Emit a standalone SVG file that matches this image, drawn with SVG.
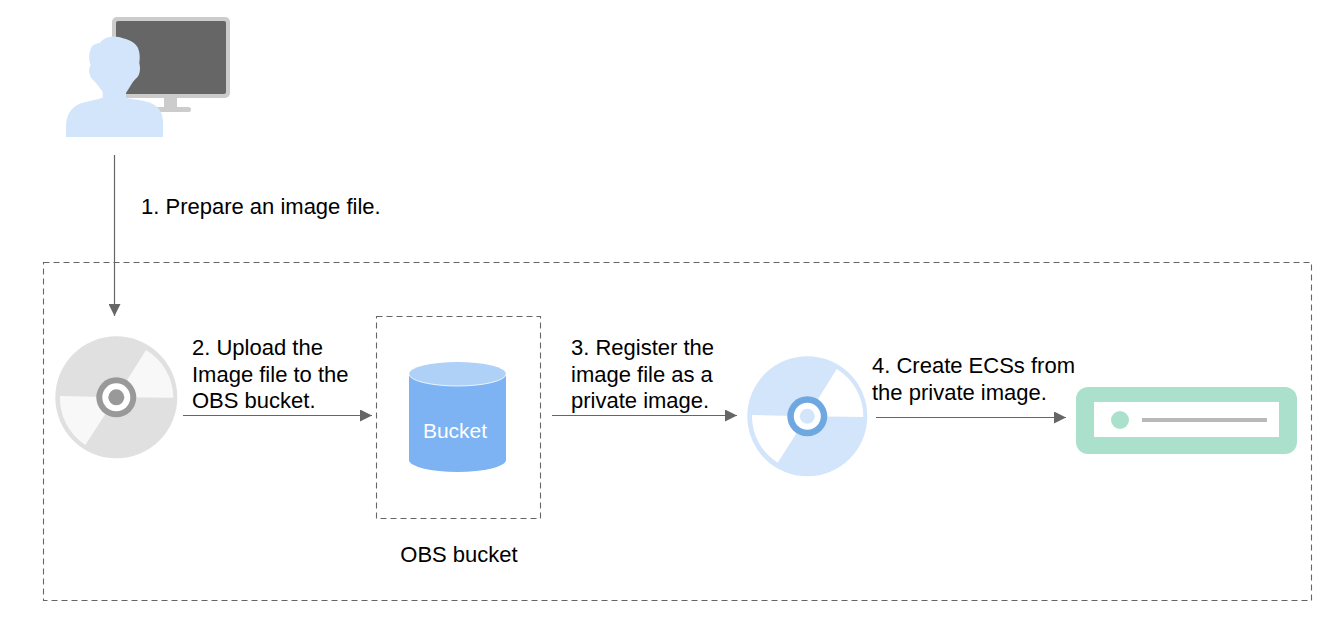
<svg xmlns="http://www.w3.org/2000/svg" width="1334" height="622" viewBox="0 0 1334 622">
<style>
text{font-family:"Liberation Sans",Arial,sans-serif;font-size:22px;fill:#000}
.dash{fill:none;stroke:#666;stroke-width:1.100;stroke-dasharray:6 4}
.conn{fill:none;stroke:#666;stroke-width:1.200;marker-end:url(#arr)}
</style>
<defs>
<marker id="arr" markerUnits="userSpaceOnUse" markerWidth="12" markerHeight="12" refX="12" refY="6" orient="auto"><path d="M0 0L12 6L0 12Z" fill="#666"/></marker>
</defs>
<rect width="1334" height="622" fill="#fff"/>
<rect id="region" class="dash" x="43.5" y="262.5" width="1268" height="338"/>
<g id="user">
<rect x="112" y="17" width="118" height="81" rx="5" fill="#ccc"/>
<rect x="116" y="21" width="110" height="73" rx="2" fill="#666"/>
<rect x="164" y="98" width="13" height="9" fill="#ccc"/>
<rect x="150" y="107" width="41" height="5" rx="2.5" fill="#ccc"/>
<path d="M66 137V127C66 114 72 106 82 103C88 101 96 100 102.700 97.700V91.700L95 81.700C92 79 90 77 90 75C88.500 72 88.700 68 90.700 65C88.500 60 88.700 52 91.700 46.700C94 44 97 43.500 100 42.700C103 39 106 37.500 110 37C115 36 119 37 123 38.300C131 40 136 44 138 48C140 53 140 58 139.300 63C140 66 140.300 69 139.700 71.700C139 75 138 77 136 78.500L133 81.700L126 93V98C133 99.500 140 100 146.700 101.700C156 104 163 110 163 122V137Z" fill="#d2e5fb"/>
</g>
<g id="disc-gray">
<circle cx="116.3" cy="397.3" r="61" fill="#e0e0e0"/>
<path d="M146 350A56 56 0 0 1 173.3 397.7L116.3 397.3Z" fill="#f8f8f8"/>
<path d="M60 396A56 56 0 0 0 85.3 445L116.3 397.3Z" fill="#f8f8f8"/>
<circle cx="116.3" cy="397.3" r="20" fill="#999"/>
<circle cx="116.3" cy="397.3" r="14" fill="#fff"/>
<circle cx="116.3" cy="397.3" r="8" fill="#999"/>
</g>
<g id="bucket">
<rect class="dash" x="376.5" y="316.5" width="164" height="202"/>
<path d="M409 374V460A48.500 12 0 0 0 506 460V374Z" fill="#7db3f2"/>
<ellipse cx="457.500" cy="374" rx="48.500" ry="12" fill="#afd0f7"/>
<path d="M409 374A48.500 12 0 0 0 506 374" fill="none" stroke="#fff" stroke-width="0.800"/>
<text x="455" y="438" text-anchor="middle" style="fill:#fff;font-size:21px">Bucket</text>
<text x="459" y="562" text-anchor="middle">OBS bucket</text>
</g>
<g id="disc-blue">
<circle cx="807.3" cy="416.3" r="60" fill="#d2e5fb"/>
<path d="M836.700 369A55 55 0 0 1 863.300 417L807.300 416.300Z" fill="#fff"/>
<path d="M752 415A55 55 0 0 0 777.700 462.700L807.300 416.300Z" fill="#fff"/>
<circle cx="807.3" cy="416.3" r="20" fill="#6fa8e0"/>
<circle cx="807.3" cy="416.3" r="13.500" fill="#fff"/>
<circle cx="807.3" cy="416.3" r="7.500" fill="#d2e5fb"/>
</g>
<g id="server">
<rect x="1076" y="387" width="221" height="67" rx="12" fill="#abe1cc"/>
<rect x="1094" y="402" width="185" height="35" fill="#fff"/>
<circle cx="1120" cy="420" r="9" fill="#abe1cc"/>
<rect x="1142" y="418" width="125" height="4" fill="#b9b9b9"/>
</g>
<g id="connectors">
<path class="conn" d="M114.500 155V316"/>
<path class="conn" d="M183 415.500H372"/>
<path class="conn" d="M552 415.500H737"/>
<path class="conn" d="M876 417.500H1066"/>
</g>
<g id="labels">
<text x="141" y="214">1. Prepare an image file.</text>
<text x="192" y="355">2. Upload the</text>
<text x="192" y="382">Image file to the</text>
<text x="192" y="408">OBS bucket.</text>
<text x="571" y="355">3. Register the</text>
<text x="571" y="382">image file as a</text>
<text x="571" y="408">private image.</text>
<text x="872" y="373">4. Create ECSs from</text>
<text x="872" y="400">the private image.</text>
</g>
</svg>
